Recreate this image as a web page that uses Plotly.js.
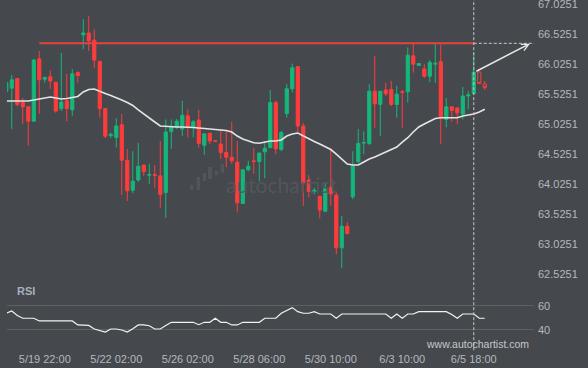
<!DOCTYPE html>
<html>
<head>
<meta charset="utf-8">
<script src="https://cdn.plot.ly/plotly-3.0.1.min.js"></script>
<style>
html,body{margin:0;padding:0;background:#45484d;}
#chart{width:588px;height:368px;}
</style>
</head>
<body>
<div id="chart"></div>
<script>
// candle index of first bar
var firstIndex = -2;

var openP = [65.58,65.63,65.79,65.39,65.32,65.08,66.12,65.78,65.82,65.73,65.29,65.42,65.27,65.89,66.52,66.55,66.43,66.08,65.29,64.84,64.81,65.02,64.43,63.93,64.10,64.35,64.18,64.19,64.17,63.89,64.91,64.98,64.95,65.17,64.98,65.10,64.68,64.88,64.755,64.70,64.56,64.48,64.40,63.71,64.27,64.42,64.41,64.57,64.64,65.39,64.61,65.21,65.62,65.99,65.00,64.10,63.91,63.83,63.58,63.98,63.85,62.97,63.33,63.82,64.41,64.715,64.71,65.58,65.36,65.60,65.61,65.36,65.57,65.57,66.17,66.01,65.95,65.83,66.03,66.07,65.11,65.32,65.30,65.20,65.50,65.54,65.90,65.70];
var highP = [65.75,65.85,65.80,65.47,65.32,66.12,66.25,65.82,65.93,65.73,66.22,65.87,65.95,65.91,66.78,66.83,66.61,66.08,65.30,64.89,65.13,65.20,64.62,64.58,64.72,64.35,64.37,64.35,64.75,65.11,65.11,65.12,65.42,65.28,65.10,65.27,64.87,64.88,64.76,64.95,64.92,65.07,64.75,64.27,64.42,64.63,64.55,64.75,65.60,65.42,64.92,65.70,66.04,65.99,65.05,64.18,63.97,63.83,64.06,64.61,63.92,63.50,63.40,64.58,64.95,64.91,65.70,66.17,65.58,65.72,65.75,65.67,65.60,66.31,66.39,66.05,66.03,66.10,66.36,66.36,65.47,65.32,65.31,65.65,65.58,66.22,65.90,65.75];
var lowP = [65.55,64.95,65.33,65.03,64.67,65.07,65.20,65.72,65.62,65.22,65.25,65.08,65.17,65.72,66.28,66.25,65.97,65.14,64.80,64.80,64.64,63.85,63.75,63.88,64.07,64.17,64.03,63.97,63.64,63.47,64.62,64.95,64.83,64.81,64.81,64.64,64.52,64.70,64.74,64.45,64.31,64.37,63.56,63.70,64.25,64.21,64.08,64.13,64.63,64.53,64.58,65.14,65.56,64.89,63.67,63.81,63.86,63.46,63.56,63.67,62.86,62.63,63.19,63.78,64.38,64.53,64.68,64.97,64.83,65.50,65.33,65.14,64.97,65.39,65.89,66.00,65.80,65.73,65.72,64.70,64.98,65.07,65.03,65.11,65.28,65.53,65.70,65.60];
var closeP = [65.72,65.77,65.36,65.32,65.08,66.10,65.77,65.81,65.75,65.25,65.40,65.29,65.87,65.84,66.55,66.42,66.10,65.29,64.83,64.86,65.00,64.43,63.92,64.08,64.33,64.24,64.19,64.18,63.86,64.90,64.98,65.08,65.18,64.98,65.07,64.71,64.87,64.75,64.745,64.56,64.48,64.42,63.72,64.27,64.33,64.41,64.55,64.63,65.39,64.62,64.89,65.62,65.97,65.00,64.04,63.91,63.93,63.60,63.96,63.87,62.97,63.33,63.21,64.33,64.71,64.725,65.58,65.37,65.58,65.54,65.36,65.53,65.56,66.18,66.03,66.04,65.83,66.06,66.045,65.14,65.32,65.26,65.22,65.50,65.52,65.90,65.71,65.64];

var maP = [65.417,65.417,65.420,65.422,65.417,65.433,65.45,65.467,65.483,65.467,65.45,65.458,65.475,65.492,65.567,65.608,65.617,65.575,65.542,65.508,65.475,65.433,65.392,65.342,65.267,65.205,65.133,65.067,65.0,64.992,64.983,64.983,64.983,64.983,64.975,64.967,64.958,64.95,64.942,64.933,64.925,64.9,64.833,64.783,64.75,64.722,64.712,64.733,64.75,64.75,64.767,64.833,64.867,64.883,64.833,64.783,64.742,64.7,64.65,64.608,64.533,64.45,64.367,64.35,64.35,64.4,64.45,64.483,64.528,64.567,64.608,64.65,64.733,64.805,64.9,64.983,65.033,65.083,65.125,65.138,65.138,65.138,65.138,65.167,65.183,65.2,65.233,65.278];

var rsiV = [53.9,55.8,52.1,49.75,49.75,49.75,47.5,47.5,47.5,47.5,47.5,47.5,47.5,44.2,44.2,43.8,40.8,39.6,38.3,40.8,40.8,40.0,38.3,41.0,44.2,44.2,43.5,40.8,40.8,43.75,46.4,46.4,46.4,46.4,46.4,44.4,46.4,46.4,49.75,46.4,46.4,44.2,44.2,46.4,46.4,46.4,46.4,49.75,49.75,49.75,53.9,56.2,58.6,55.25,53.9,53.9,55.25,53.3,53.3,53.3,49.75,53.3,53.3,53.3,53.3,53.3,53.3,53.3,53.3,53.3,49.75,53.3,49.75,53.3,53.3,55.25,55.25,55.25,55.25,55.25,55.25,52.9,49.75,53.3,53.3,53.3,49.75,49.75];

var tickIdx = [5,18,31,44,57,70,83];
var tickLabels = ['5/19 22:00','5/22 02:00','5/26 02:00','5/28 06:00','5/30 10:00','6/3 10:00','6/5 18:00'];

var resistanceLevel = 66.378;
var resistanceFrom = 4;
var resistanceTo = 83;
var projectionTo = 95;
var forecastFrom = [83.2, 65.90];
var forecastTo = [93.2, 66.372];
var currentIdx = 83;
var hollowCount = 2;

var xs = [];
for (var i = 0; i < openP.length; i++) xs.push(firstIndex + i);
var nSolid = openP.length - hollowCount;

var GREEN = '#14b87b', RED = '#ff3c3c';
var axisFont = {family:'Liberation Sans, Arial, sans-serif', size:11, color:'#b4b8bd'};

var traces = [
  {type:'candlestick', x:xs.slice(0,nSolid), open:openP.slice(0,nSolid), high:highP.slice(0,nSolid), low:lowP.slice(0,nSolid), close:closeP.slice(0,nSolid),
   increasing:{line:{color:GREEN,width:1}, fillcolor:GREEN},
   decreasing:{line:{color:RED,width:1}, fillcolor:RED},
   whiskerwidth:0, xaxis:'x', yaxis:'y', hoverinfo:'skip', showlegend:false},
  {type:'candlestick', x:xs.slice(nSolid), open:openP.slice(nSolid), high:highP.slice(nSolid), low:lowP.slice(nSolid), close:closeP.slice(nSolid),
   increasing:{line:{color:GREEN,width:1}, fillcolor:'rgba(0,0,0,0)'},
   decreasing:{line:{color:RED,width:1}, fillcolor:'rgba(0,0,0,0)'},
   whiskerwidth:0, xaxis:'x', yaxis:'y', hoverinfo:'skip', showlegend:false},
  {type:'scatter', mode:'lines', x:xs, y:maP, line:{color:'#e4e4e4', width:1.6}, xaxis:'x', yaxis:'y', hoverinfo:'skip', showlegend:false},
  {type:'scatter', mode:'lines', x:[resistanceFrom,resistanceTo], y:[resistanceLevel,resistanceLevel], line:{color:'#e8423f', width:2}, xaxis:'x', yaxis:'y', hoverinfo:'skip', showlegend:false},
  {type:'scatter', mode:'lines', x:[resistanceTo,projectionTo], y:[resistanceLevel,resistanceLevel], line:{color:'#c9c9c9', width:1, dash:'3px,2px'}, xaxis:'x', yaxis:'y', hoverinfo:'skip', showlegend:false},
  {type:'scatter', mode:'lines', x:xs, y:rsiV, line:{color:'#f2f2f2', width:1.2}, xaxis:'x', yaxis:'y2', hoverinfo:'skip', showlegend:false}
];

// watermark logo bars (paper coords from pixel positions)
function px(x){return (x-7)/527;}
function py(y){return (345-y)/345;}
var logoBars = [[190,193.3,185,190],[196.7,200,177,190],[202.7,206,173,181],[208,212,167,179],[215,218,171,175],[220.7,224,164,172.7]];
var shapes = [
  {type:'line', xref:'x', yref:'paper', x0:currentIdx, x1:currentIdx, y0:-0.015, y1:1, line:{color:'#c9c9c9', width:1, dash:'3px,2px'}}
];
logoBars.forEach(function(b){
  shapes.push({type:'rect', xref:'paper', yref:'paper', x0:px(b[0]), x1:px(b[1]), y0:py(b[3]), y1:py(b[2]), fillcolor:'#52565b', line:{width:0}, layer:'below'});
});

var layout = {
  width:588, height:368,
  margin:{l:7, r:54, t:0, b:23},
  paper_bgcolor:'#45484d', plot_bgcolor:'#45484d',
  boxgap:0.18,
  showlegend:false,
  font:axisFont,
  xaxis:{range:[-1.87,93.95], anchor:'y2', tickmode:'array', tickvals:tickIdx, ticktext:tickLabels,
         showgrid:false, zeroline:false, showline:false, ticks:'', tickfont:axisFont, ticklabelstandoff:6,
         ticklabeloverflow:'allow', rangeslider:{visible:false}, fixedrange:true},
  yaxis:{domain:[0.19,1], range:[62.443,67.100], side:'right', anchor:'x', tickmode:'linear', tick0:62.5251, dtick:0.5, tickformat:'.4f',
         showgrid:false, zeroline:false, showline:false, ticks:'', tickfont:axisFont, ticklabelstandoff:3, ticklabeloverflow:'allow'},
  yaxis2:{domain:[0,0.18], range:[27.5,79.17], side:'right', anchor:'x', tickmode:'array', tickvals:[40,60], ticktext:['40','60'],
          showgrid:true, gridcolor:'#5a615f', gridwidth:1, zeroline:false, showline:false, ticks:'', tickfont:axisFont, ticklabelstandoff:3},
  shapes:shapes,
  annotations:[
    {x:forecastTo[0], y:forecastTo[1], ax:forecastFrom[0], ay:forecastFrom[1], xref:'x', yref:'y', axref:'x', ayref:'y',
     showarrow:true, arrowhead:5, arrowsize:0.9, arrowwidth:1.5, arrowcolor:'#e6e6e6', text:''},
    {x:0.0152, y:0.1565, xref:'paper', yref:'paper', xanchor:'left', yanchor:'middle', showarrow:false, text:'<b>RSI</b>',
     font:{family:'Liberation Sans, Arial, sans-serif', size:11, color:'#a9b0bd'}},
    {x:px(224), y:py(184), xref:'paper', yref:'paper', xanchor:'left', yanchor:'middle', showarrow:false, text:'autochartist',
     font:{family:'Lato, sans-serif', size:21, color:'#52565b'}},
    {x:px(477), y:py(344), xref:'paper', yref:'paper', xanchor:'center', yanchor:'middle', showarrow:false, text:'www.autochartist.com',
     font:{family:'Liberation Sans, Arial, sans-serif', size:10.5, color:'#c4c8cc'}}
  ]
};

Plotly.newPlot('chart', traces, layout, {displayModeBar:false, staticPlot:true});
</script>
</body>
</html>
